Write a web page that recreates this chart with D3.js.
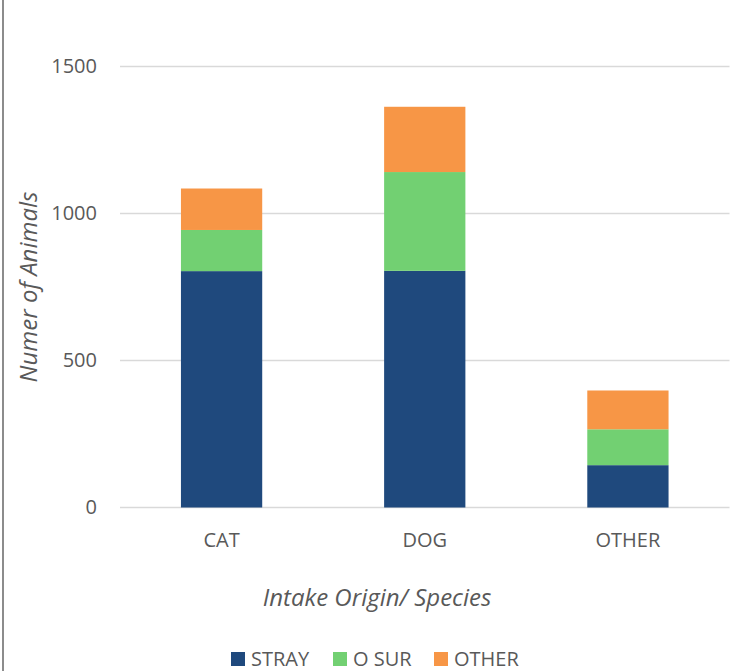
<!DOCTYPE html>
<html>
<head>
<meta charset="utf-8">
<script src="https://cdn.jsdelivr.net/npm/d3@7"></script>
<style>
  html, body { margin: 0; padding: 0; background: #fff; }
  svg { display: block; font-family: "Open Sans", sans-serif; }
</style>
</head>
<body>
<div id="chart"></div>
<script>
// Data
const categories = ["CAT", "DOG", "OTHER"];
const seriesNames = ["STRAY", "O SUR", "OTHER"];
const strayValues = [804, 805, 144];
const oSurValues = [140, 336, 122];
const otherValues = [141, 222, 132];
const yTicks = [0, 500, 1000, 1500];
const colors = ["#1f497d", "#72d072", "#f79646"];

const width = 735;
const height = 671;
const margin = { top: 66.5, right: 5.5, bottom: 163.5, left: 120 };

const svg = d3
  .select("#chart")
  .append("svg")
  .attr("width", width)
  .attr("height", height);

// Chart area border (left edge visible)
svg
  .append("line")
  .attr("x1", 3)
  .attr("x2", 3)
  .attr("y1", 0)
  .attr("y2", height)
  .attr("stroke", "#8c8c8c")
  .attr("stroke-width", 2);

const rows = categories.map((c, i) => ({
  category: c,
  STRAY: strayValues[i],
  "O SUR": oSurValues[i],
  OTHER: otherValues[i],
}));

const stack = d3.stack().keys(seriesNames)(rows);

const x = d3
  .scaleBand()
  .domain(categories)
  .range([margin.left, width - margin.right])
  .paddingInner(0.6)
  .paddingOuter(0.3);

const y = d3
  .scaleLinear()
  .domain([0, 1500])
  .range([height - margin.bottom, margin.top]);

// Grid lines
svg
  .append("g")
  .attr("class", "grid-lines")
  .selectAll("line")
  .data(yTicks)
  .enter()
  .append("line")
  .attr("x1", margin.left)
  .attr("x2", width - margin.right)
  .attr("y1", (d) => y(d))
  .attr("y2", (d) => y(d))
  .attr("stroke", "#d9d9d9")
  .attr("stroke-width", 1.3);

// Y axis labels
const yAxis = svg
  .append("g")
  .attr("transform", `translate(${margin.left - 23},0)`)
  .call(
    d3
      .axisLeft(y)
      .tickValues(yTicks)
      .tickSize(0)
      .tickPadding(0)
      .tickFormat(d3.format("d"))
  );
yAxis.select(".domain").remove();
yAxis
  .selectAll("text")
  .attr("font-family", "'Open Sans', sans-serif")
  .attr("font-size", "20px")
  .attr("fill", "#595959");

// Bars
svg
  .selectAll(".series")
  .data(stack)
  .enter()
  .append("g")
  .attr("class", "series")
  .attr("fill", (d, i) => colors[i])
  .selectAll("rect")
  .data((d) => d)
  .enter()
  .append("rect")
  .attr("x", (d) => x(d.data.category))
  .attr("y", (d) => y(d[1]))
  .attr("width", x.bandwidth())
  .attr("height", (d) => y(d[0]) - y(d[1]));

// X axis labels
const xAxis = svg
  .append("g")
  .attr("transform", `translate(0,${height - margin.bottom + 25})`)
  .call(d3.axisBottom(x).tickSize(0).tickPadding(0));
xAxis.select(".domain").remove();
xAxis
  .selectAll("text")
  .attr("font-family", "'Open Sans', sans-serif")
  .attr("font-size", "20px")
  .attr("fill", "#595959");

// Axis titles
svg
  .append("text")
  .attr("x", 377)
  .attr("y", 606)
  .attr("text-anchor", "middle")
  .attr("font-size", "24px")
  .attr("font-style", "italic")
  .attr("fill", "#595959")
  .text("Intake Origin/ Species");

svg
  .append("text")
  .attr("transform", "rotate(-90)")
  .attr("x", -287)
  .attr("y", 37)
  .attr("text-anchor", "middle")
  .attr("font-size", "24px")
  .attr("font-style", "italic")
  .attr("fill", "#595959")
  .text("Numer of Animals");

// Legend
const legendX = [231, 333, 434];
const legend = svg
  .selectAll(".legend")
  .data(seriesNames)
  .enter()
  .append("g")
  .attr("class", "legend")
  .attr("transform", (d, i) => `translate(${legendX[i]},652)`);

legend
  .append("rect")
  .attr("width", 14)
  .attr("height", 14)
  .attr("fill", (d, i) => colors[i]);

legend
  .append("text")
  .attr("x", 20)
  .attr("y", 14)
  .attr("font-size", "20px")
  .attr("fill", "#595959")
  .text((d) => d);
</script>
</body>
</html>
